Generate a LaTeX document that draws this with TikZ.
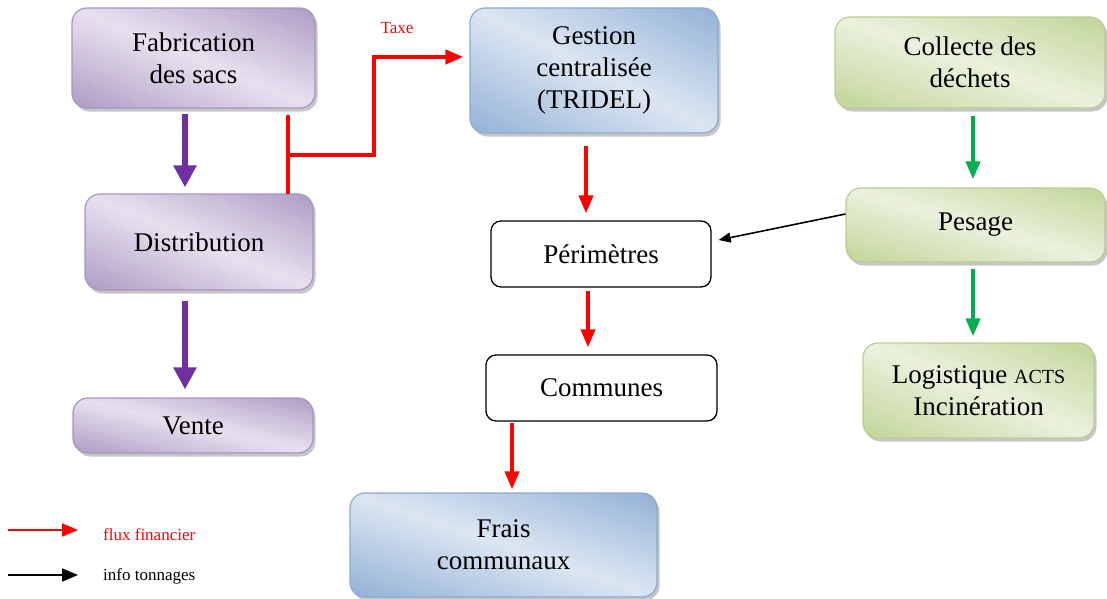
\documentclass[tikz,border=0pt]{standalone}
\usepackage{fontspec}
\setmainfont{Liberation Serif}
\usetikzlibrary{arrows.meta}
\definecolor{pdark}{HTML}{AE9CC4}
\definecolor{plight}{HTML}{E8E1EF}
\definecolor{pborder}{HTML}{A795C0}
\definecolor{bdark}{HTML}{93B1D6}
\definecolor{blight}{HTML}{DCE6F2}
\definecolor{bborder}{HTML}{8EA9D0}
\definecolor{gdark}{HTML}{C1D597}
\definecolor{glight}{HTML}{EBF1DE}
\definecolor{gborder}{HTML}{B9CC91}
\definecolor{parrowc}{HTML}{7030A0}
\definecolor{garrowc}{HTML}{00B050}
\tikzset{
  box/.style={rounded corners=15pt, line width=1.2pt, align=center,
    font=\fontsize{27}{32}\selectfont, inner sep=0pt},
  wbox/.style={rounded corners=10pt, draw=black, line width=1.3pt, fill=white,
    align=center, font=\fontsize{27}{32}\selectfont, inner sep=0pt},
  parrow/.style={draw=parrowc, line width=6pt, -{Triangle[width=22pt,length=22pt]}},
  rline/.style={draw=red, line width=4pt},
  rarrow/.style={draw=red, line width=4pt, -{Triangle[width=14pt,length=18pt]}},
  garrow/.style={draw=garrowc, line width=4pt, -{Triangle[width=14pt,length=18pt]}},
  karrow/.style={draw=black, line width=1.6pt, -{Triangle[width=10pt,length=12pt]}},
  small/.style={font=\fontsize{17}{19}\selectfont, inner sep=0pt}
}
% name, cx, cy, w, h, border colour, dark, light, text
\newcommand\gbox[9]{%
  \begin{scope}
    \fill[gray!45, rounded corners=15pt] ({#2-#4/2+2.5},{#3-#5/2+3.5}) rectangle ({#2+#4/2+2.5},{#3+#5/2+3.5});
    \clip[rounded corners=15pt] ({#2-#4/2},{#3-#5/2}) rectangle ({#2+#4/2},{#3+#5/2});
    \foreach \k in {0,...,39}{%
      \pgfmathsetmacro\ga{\k/20}%
      \pgfmathsetmacro\gb{(\k+1)/20+0.01}%
      \pgfmathsetmacro\gt{100*abs((\k+0.5)/20-1)}%
      \fill[#7!\gt!#8] ({#2-#4/2+\ga*#4},{#3+#5/2}) -- ({#2-#4/2+\gb*#4},{#3+#5/2})
        -- ({#2-#4/2+(\gb-2)*#4},{#3+#5/2-2*#5}) -- ({#2-#4/2+(\ga-2)*#4},{#3+#5/2-2*#5}) -- cycle;
    }
  \end{scope}
  \node[box, draw=#6, minimum width=#4pt, minimum height=#5pt] (#1) at (#2,#3) {#9};
}
\begin{document}
\begin{tikzpicture}[x=1pt,y=-1pt]
\useasboundingbox (0,0) rectangle (1107,598);
% boxes
\gbox{fab}{193.5}{58}{243}{100}{pborder}{pdark}{plight}{Fabrication\\des sacs}
\gbox{dist}{199}{242}{228}{96}{pborder}{pdark}{plight}{Distribution}
\gbox{vente}{193}{425.5}{240}{55}{pborder}{pdark}{plight}{Vente}
\gbox{gest}{594}{70.5}{248}{125}{bborder}{bdark}{blight}{\raisebox{-4pt}{\begin{tabular}{@{}c@{}}Gestion\\centralisée\\(TRIDEL)\end{tabular}}}
\gbox{frais}{503.5}{545}{307}{104}{bborder}{bdark}{blight}{Frais\\communaux}
\gbox{coll}{970}{62.5}{270}{91}{gborder}{gdark}{glight}{Collecte des\\déchets}
\gbox{pes}{975.5}{225}{259}{74}{gborder}{gdark}{glight}{Pesage}
\gbox{logi}{978.5}{390.5}{231}{95}{gborder}{gdark}{glight}{Logistique {\fontsize{20}{20}\selectfont ACTS}\\Incinération}
\node[wbox, minimum width=220pt, minimum height=66pt] (peri) at (601,254) {Périmètres};
\node[wbox, minimum width=231pt, minimum height=66pt] (comm) at (601.5,388) {Communes};
% purple arrows
\draw[parrow] ([xshift=-8.5pt,yshift=-5pt]fab.south) -- ([xshift=-14pt,yshift=6pt]dist.north);
\draw[parrow] ([xshift=-14pt,yshift=-10pt]dist.south) -- ([xshift=-8pt,yshift=8pt]vente.north);
% tax line
\coordinate (ta) at ([xshift=-28pt,yshift=-6pt]fab.south east);
\coordinate (tb) at ([xshift=-26pt,yshift=-1pt]dist.north east);
\coordinate (tj) at (287,155);
\coordinate (tk) at (374,155);
\coordinate (tl) at (374,57);
\draw[rline] (ta) -- (tb);
\draw[rarrow, line join=miter] (tj) -- (tk) -- (tl) -- ([xshift=-6pt,yshift=13.5pt]gest.west);
\node[small, text=red] (taxe) at (397,28) {Taxe};
% red arrows
\draw[rarrow] ([xshift=-8pt,yshift=-12pt]gest.south) -- ([xshift=-15pt,yshift=7pt]peri.north);
\draw[rarrow] ([xshift=-13pt,yshift=-3pt]peri.south) -- ([xshift=-13.5pt,yshift=7pt]comm.north);
\draw[rarrow] ([xshift=-89.5pt,yshift=-1pt]comm.south) -- ([xshift=8.5pt,yshift=3pt]frais.north);
% green arrows
\draw[garrow] ([xshift=3pt,yshift=-7pt]coll.south) -- ([xshift=-2.5pt,yshift=8pt]pes.north);
\draw[garrow] ([xshift=-2.5pt,yshift=-6pt]pes.south) -- ([xshift=-5.5pt,yshift=6pt]logi.north);
% black arrow
\draw[karrow] ([yshift=11pt]pes.west) -- ([xshift=7pt,yshift=14pt]peri.east);
% legend
\coordinate (l1a) at (8,530);
\coordinate (l1b) at (78,530);
\coordinate (l2a) at (8,575);
\coordinate (l2b) at (78,575);
\draw[draw=red, line width=2pt, -{Triangle[width=13pt,length=16pt]}] (l1a) -- (l1b);
\draw[draw=black, line width=2pt, -{Triangle[width=13pt,length=16pt]}] (l2a) -- (l2b);
\node[small, text=red, anchor=west] (lg1) at (103,535) {flux financier};
\node[small, anchor=west] (lg2) at (103,576) {info tonnages};
\end{tikzpicture}
\end{document}
